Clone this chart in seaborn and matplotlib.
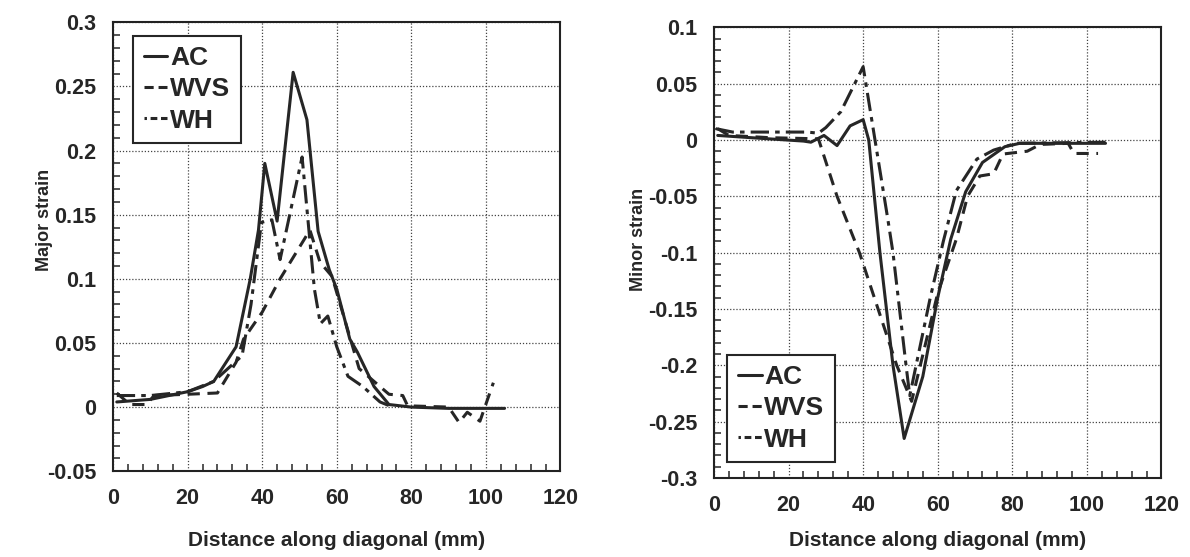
import numpy as np
import pandas as pd
import matplotlib
matplotlib.use("Agg")
import matplotlib.pyplot as plt
from matplotlib.lines import Line2D
from matplotlib.ticker import MultipleLocator, FixedLocator
import seaborn as sns

# ---------------------------------------------------------------
# data (distance in mm, strain)
# ---------------------------------------------------------------
major_ac_x = [1, 10, 20, 24, 27, 33, 36.8, 39, 40.7, 44, 48.3, 52, 55, 58, 60, 63.5, 65.5, 70, 74, 80, 90, 105]
major_ac_y = [0.004, 0.006, 0.012, 0.016, 0.02, 0.047, 0.1, 0.138, 0.19, 0.145, 0.261, 0.224, 0.137, 0.107, 0.092, 0.053, 0.043, 0.016, 0.002, 0.0, -0.001, -0.001]

major_wvs_x = [1, 4.5, 9, 11, 20, 28, 33, 35, 40, 44.8, 52.8, 55.5, 58.7, 66, 74, 77.7, 79, 90, 92.8, 95, 98.4, 102]
major_wvs_y = [0.011, 0.002, 0.002, 0.009, 0.01, 0.011, 0.035, 0.053, 0.074, 0.1, 0.138, 0.113, 0.102, 0.03, 0.01, 0.009, 0.001, 0.0, -0.012, -0.004, -0.011, 0.019]

major_wh_x = [1, 10, 20, 27, 34.6, 37, 39.8, 42.6, 44.8, 50.7, 54, 55.6, 57.6, 60, 63, 67, 71.6, 75]
major_wh_y = [0.009, 0.009, 0.012, 0.02, 0.04, 0.08, 0.144, 0.146, 0.115, 0.195, 0.092, 0.065, 0.071, 0.047, 0.024, 0.016, 0.004, 0.0]

minor_ac_x = [1, 10, 24, 26, 29.5, 33, 36.5, 40, 41.5, 44.5, 48, 51, 56, 60, 63.5, 67.5, 72, 78, 82, 105]
minor_ac_y = [0.004, 0.002, -0.001, -0.002, 0.004, -0.005, 0.0125, 0.018, 0.0, -0.1, -0.2, -0.265, -0.21, -0.14, -0.088, -0.046, -0.02, -0.006, -0.003, -0.003]

minor_wvs_x = [1, 4, 15, 28, 33, 39, 44, 49, 53, 60, 65, 68, 71.3, 75, 77.5, 84, 87.5, 95, 96.5, 103]
minor_wvs_y = [0.01, 0.004, 0.002, 0.001, -0.05, -0.1, -0.15, -0.2, -0.232, -0.136, -0.088, -0.05, -0.032, -0.03, -0.0125, -0.01, -0.004, -0.003, -0.012, -0.012]

minor_wh_x = [0.5, 5, 25, 28, 30, 34, 40, 46.6, 48, 51.5, 52.5, 58, 61.5, 65, 70.5, 75, 81, 105]
minor_wh_y = [0.01, 0.007, 0.007, 0.006, 0.011, 0.025, 0.065, -0.07, -0.1, -0.2, -0.227, -0.14, -0.09, -0.045, -0.017, -0.009, -0.003, -0.002]

series_names = ["AC", "WVS", "WH"]

x_ticks = [0, 20, 40, 60, 80, 100, 120]
major_ticks = [-0.05, 0, 0.05, 0.1, 0.15, 0.2, 0.25, 0.3]
major_tick_labels = ["-0.05", "0", "0.05", "0.1", "0.15", "0.2", "0.25", "0.3"]
minor_ticks = [-0.3, -0.25, -0.2, -0.15, -0.1, -0.05, 0, 0.05, 0.1]
minor_tick_labels = ["-0.3", "-0.25", "-0.2", "-0.15", "-0.1", "-0.05", "0", "0.05", "0.1"]

x_label = "Distance along diagonal (mm)"

# ---------------------------------------------------------------
# styling
# ---------------------------------------------------------------
sns.set_theme(style="ticks")
plt.rcParams["font.family"] = ["Liberation Sans", "DejaVu Sans"]
plt.rcParams["font.weight"] = "bold"
plt.rcParams["axes.labelweight"] = "bold"
plt.rcParams["axes.edgecolor"] = "#222222"
plt.rcParams["axes.linewidth"] = 1.5

INK = "#262626"
LW = 2.2

line_styles = {
    "AC": "-",
    "WVS": (0, (4, 2.5)),
    "WH": (0, (6, 2, 1.5, 2)),
}
# the legend keys in the scan are short: "—", "--", "·--"
legend_styles = {
    "AC": "-",
    "WVS": (0, (3, 1.6)),
    "WH": (0, (0.8, 1.2, 2.2, 1.2, 2.2, 1.2)),
}

fig = plt.figure(figsize=(11.9, 5.57), dpi=100)
ax_l = fig.add_axes([0.095, 0.154, 0.376, 0.806])
ax_r = fig.add_axes([0.600, 0.142, 0.376, 0.809])


def draw_panel(ax, data, yticks, ylabels, ylim, ylabel, ylabel_pos,
               xlabel_pad, legend_anchor, legend_loc):
    for name in series_names:
        xs, ys = data[name]
        df = pd.DataFrame({"x": xs, "y": ys})
        sns.lineplot(data=df, x="x", y="y", ax=ax, color=INK,
                     linestyle=line_styles[name], linewidth=LW,
                     sort=False, estimator=None, legend=False)

    ax.set_xlim(0, 120)
    ax.set_ylim(*ylim)
    ax.xaxis.set_major_locator(FixedLocator(x_ticks))
    ax.xaxis.set_minor_locator(MultipleLocator(4))
    ax.yaxis.set_major_locator(FixedLocator(yticks))
    ax.set_yticklabels(ylabels)
    ax.yaxis.set_minor_locator(MultipleLocator(0.01))
    ax.tick_params(which="both", direction="in", colors=INK,
                   labelsize=15.5, labelcolor=INK)
    ax.tick_params(which="major", length=0, pad=12)
    ax.tick_params(which="minor", length=5, width=1.1)
    ax.grid(True, which="major", linestyle=(0, (1, 1.5)), color="#444444", linewidth=0.9)

    ax.set_xlabel(x_label, fontsize=15, color=INK, labelpad=xlabel_pad)
    ax.set_ylabel(ylabel, fontsize=13, color=INK)
    ax.yaxis.set_label_coords(*ylabel_pos)

    handles = [Line2D([], [], color=INK, linewidth=LW, linestyle=legend_styles[n])
               for n in series_names]
    leg = ax.legend(handles, series_names, loc=legend_loc,
                    bbox_to_anchor=legend_anchor, fontsize=19,
                    handlelength=0.9, handletextpad=0.1, labelspacing=0.27,
                    borderpad=0.4, fancybox=False, framealpha=1,
                    edgecolor=INK, borderaxespad=0)
    leg.get_frame().set_linewidth(1.5)
    for t in leg.get_texts():
        t.set_color(INK)


draw_panel(ax_l,
           {"AC": (major_ac_x, major_ac_y),
            "WVS": (major_wvs_x, major_wvs_y),
            "WH": (major_wh_x, major_wh_y)},
           major_ticks, major_tick_labels, (-0.05, 0.3), "Major strain",
           (-0.135, 0.56), 16, (0.045, 0.97), "upper left")

draw_panel(ax_r,
           {"AC": (minor_ac_x, minor_ac_y),
            "WVS": (minor_wvs_x, minor_wvs_y),
            "WH": (minor_wh_x, minor_wh_y)},
           minor_ticks, minor_tick_labels, (-0.3, 0.1), "Minor strain",
           (-0.15, 0.53), 11, (0.03, 0.035), "lower left")

fig.savefig("out.png", dpi=100)
